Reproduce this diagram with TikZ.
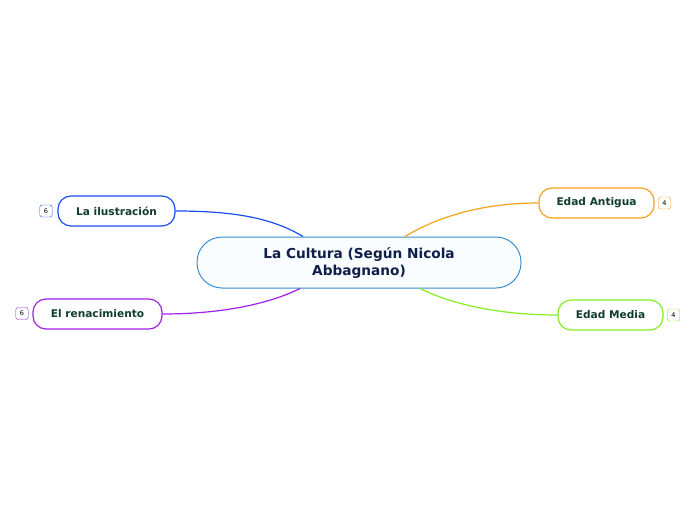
\documentclass[tikz,border=0pt]{standalone}
\usepackage{fontspec}
\setmainfont{DejaVu Sans}
\usetikzlibrary{calc}
\definecolor{cblue}{HTML}{3A8FD0}
\definecolor{ilus}{HTML}{1A4FF0}
\definecolor{ren}{HTML}{A020F0}
\definecolor{ant}{HTML}{F7A21B}
\definecolor{med}{HTML}{80F020}
\definecolor{txtc}{HTML}{0F1F4A}
\definecolor{txtb}{HTML}{0F3D2E}
\tikzset{
  central/.style={draw=cblue, line width=1pt, fill=white!98!cyan, rounded corners=25pt, minimum width=324pt, minimum height=51pt, align=center, font=\bfseries\fontsize{13.7}{17}\selectfont, text=txtc, inner sep=0pt},
  branch/.style={draw=#1, line width=1.2pt, fill=white, rounded corners=13pt, minimum height=30pt, inner sep=0pt, font=\bfseries\fontsize{10.6}{12}\selectfont, text=txtb},
  badge/.style={draw=#1, line width=0.4pt, fill=white, rounded corners=2.5pt, minimum width=12.5pt, minimum height=12pt, inner sep=0pt, font=\fontsize{6.5}{7}\selectfont, text=black},
  conn/.style={draw=#1, line width=1.2pt},
}
\begin{document}
\begin{tikzpicture}[x=1pt,y=-1pt]
\useasboundingbox (0,0) rectangle (696,520);
\node[central] (c) at (359,262.5) {La Cultura (Según Nicola\\Abbagnano)};
\node[branch=ilus, minimum width=117pt] (ilus) at (116.5,211) {La ilustración};
\node[branch=ren, minimum width=129pt] (ren) at (97.5,314) {El renacimiento};
\node[branch=ant, minimum width=115pt] (ant) at (596.5,203) {Edad Antigua};
\node[branch=med, minimum width=105pt] (med) at (610.5,315) {Edad Media};
\node[badge=ilus] (b1) at (46,211) {6};
\node[badge=ren] (b2) at (22,313.5) {6};
\node[badge=ant] (b3) at (664.5,203) {4};
\node[badge=med] (b4) at (673.5,315) {4};
\coordinate (c1) at ($(c.north)+(-56,0)$);
\coordinate (c2) at ($(c.north)+(46,0)$);
\coordinate (c3) at ($(c.south)+(-59,0)$);
\coordinate (c4) at ($(c.south)+(61,0)$);
\draw[conn=ilus] (c1) .. controls ($(c1)+(-30,-18)$) and ($(ilus.east)+(60,0)$) .. (ilus.east);
\draw[conn=ant] (c2) .. controls ($(c2)+(30,-18)$) and ($(ant.west)+(-60,0)$) .. (ant.west);
\draw[conn=ren] (c3) .. controls ($(c3)+(-30,15)$) and ($(ren.east)+(60,0)$) .. (ren.east);
\draw[conn=med] (c4) .. controls ($(c4)+(30,15)$) and ($(med.west)+(-60,0)$) .. (med.west);
\end{tikzpicture}
\end{document}
